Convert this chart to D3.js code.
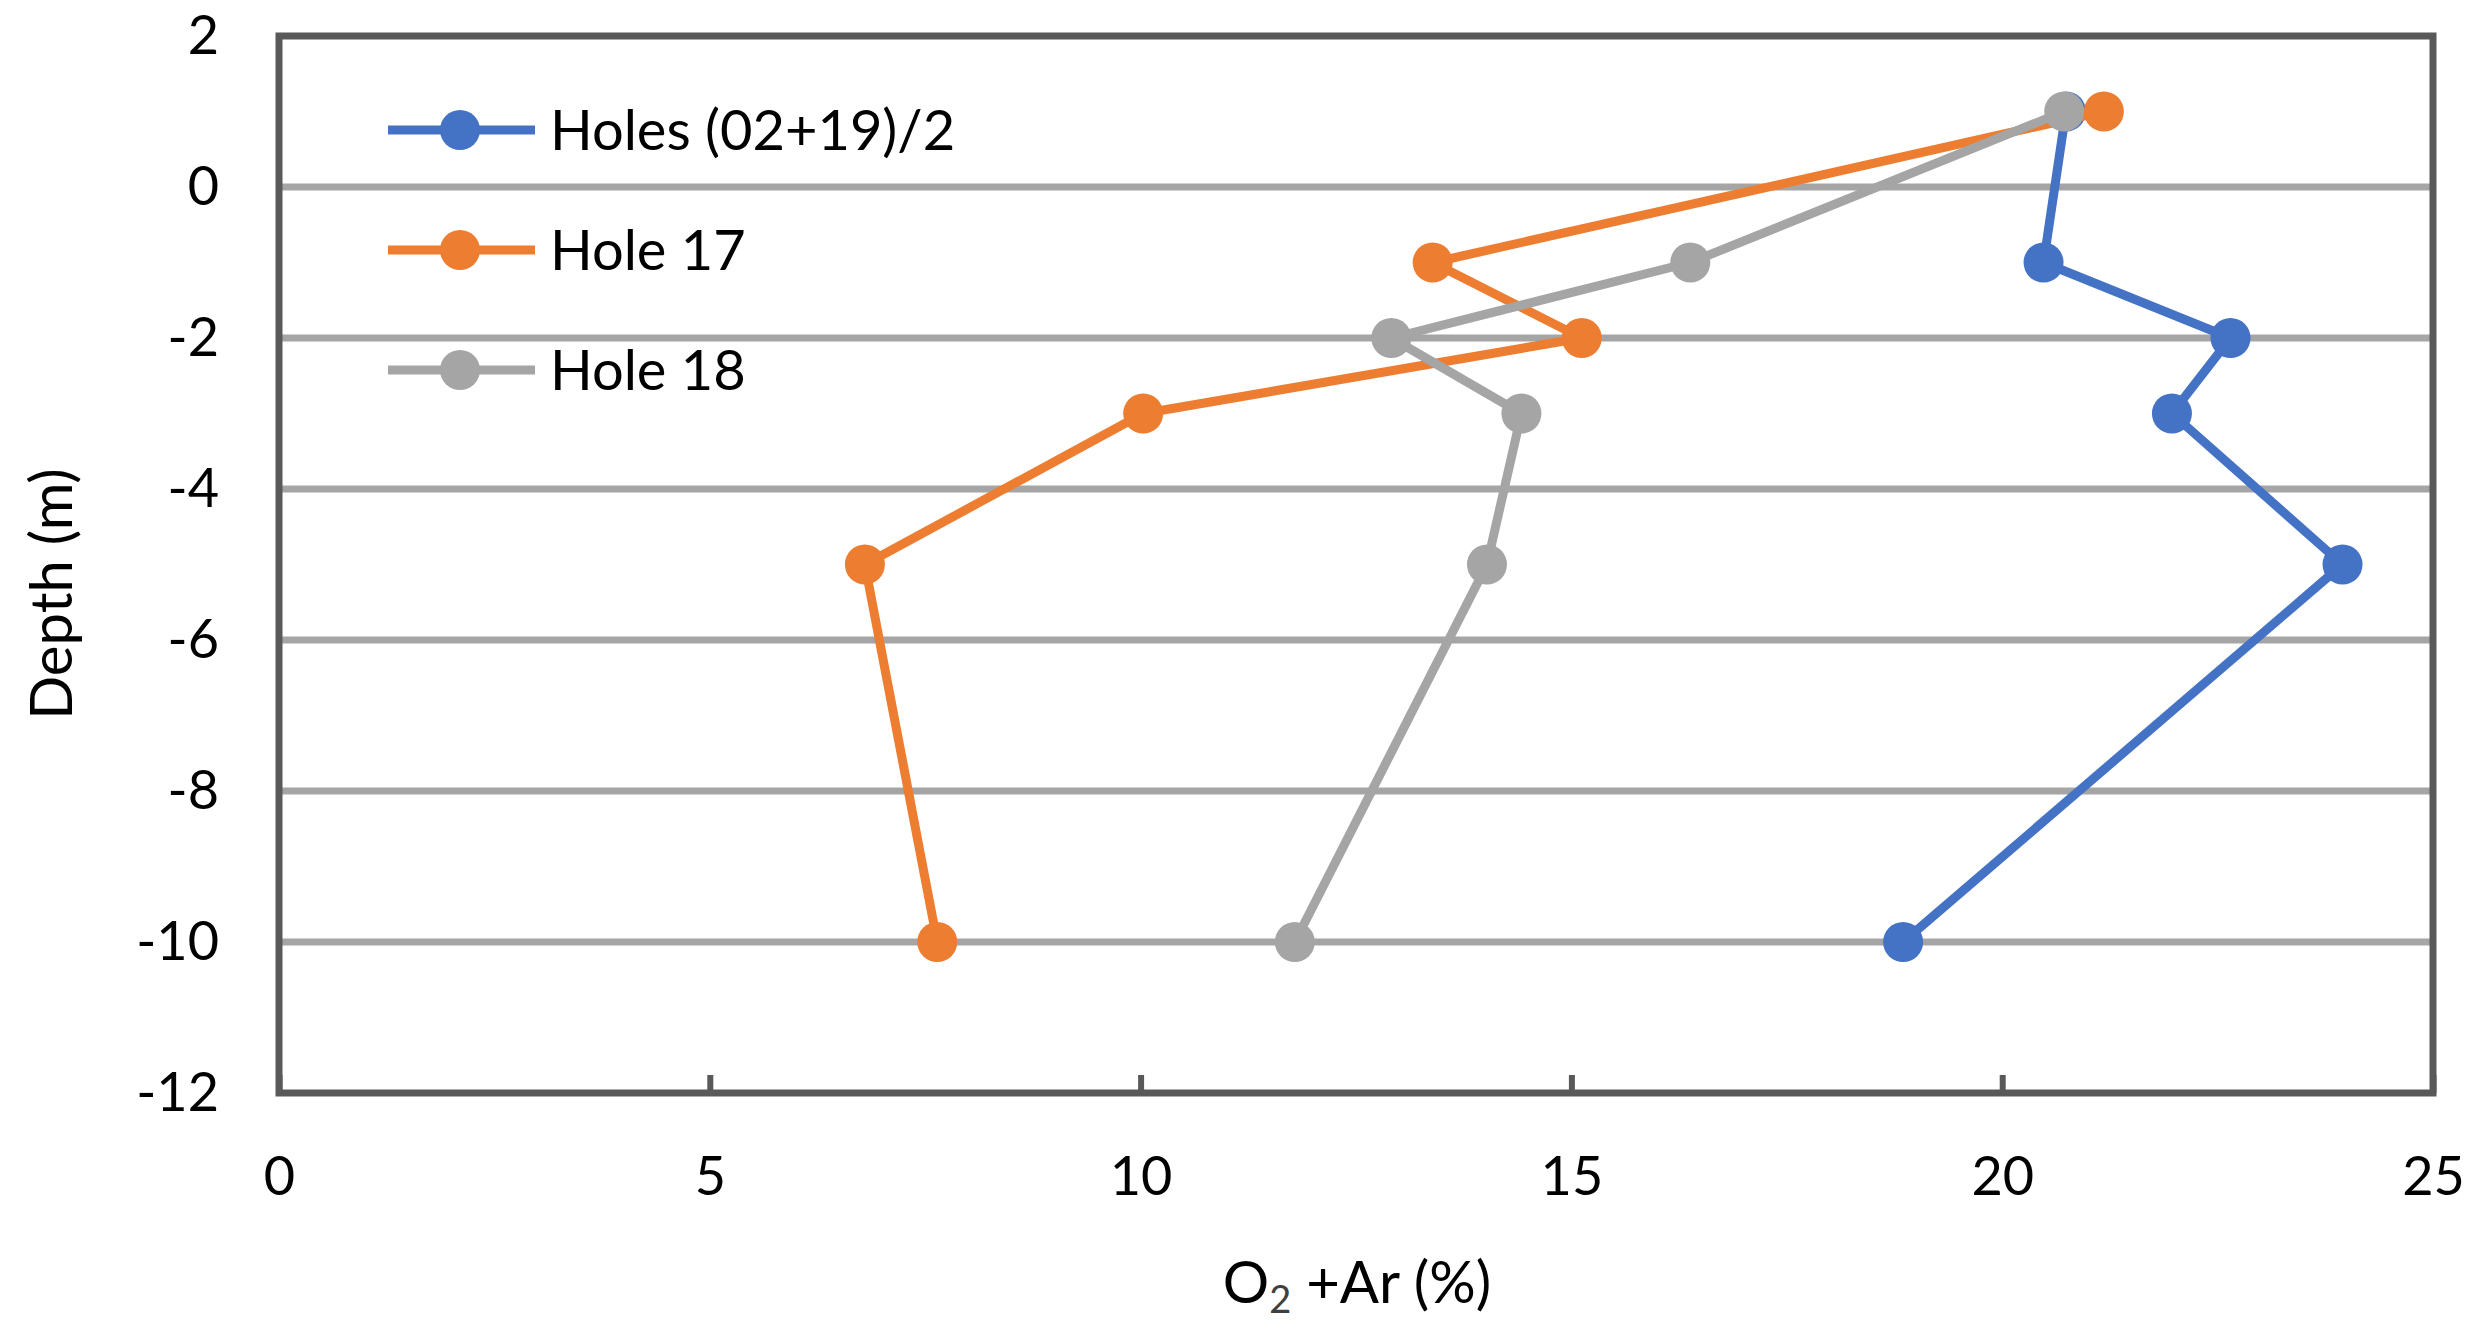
<!DOCTYPE html>
<html>
<head>
<meta charset="utf-8">
<script src="https://cdn.jsdelivr.net/npm/d3@7"></script>
<style>
  html, body { margin: 0; padding: 0; background: #ffffff; }
  svg { display: block; }
  text { font-family: Lato, "Open Sans", sans-serif; fill: #000; }
</style>
</head>
<body>
<svg id="chart" width="2482" height="1334"></svg>
<script>
// ---- data ----
const depths = [1, -1, -2, -3, -5, -10];
const seriesNames = ["Holes (02+19)/2", "Hole 17", "Hole 18"];
const holesAvg = [20.74, 20.48, 22.65, 21.97, 23.95, 18.85];
const hole17   = [21.18, 13.39, 15.12, 10.03, 6.80, 7.64];
const hole18   = [20.72, 16.38, 12.91, 14.42, 14.02, 11.79];
const seriesColors = ["#4472C4", "#ED7D31", "#A5A5A5"];
const xTicks = [0, 5, 10, 15, 20, 25];
const yTicks = [2, 0, -2, -4, -6, -8, -10, -12];
const gridValues = [0, -2, -4, -6, -8, -10];

const svg = d3.select("#chart");
const L = 279, R = 2433, T = 36, B = 1093;

const x = d3.scaleLinear().domain([0, 25]).range([L, R]);
const y = d3.scaleLinear().domain([-12, 2]).range([B, T]);

// gridlines
svg.append("g").selectAll("line").data(gridValues).join("line")
  .attr("x1", L).attr("x2", R)
  .attr("y1", d => y(d)).attr("y2", d => y(d))
  .attr("stroke", "#A5A5A5").attr("stroke-width", 7);

// x axis (ticks inside)
const xAxis = svg.append("g").attr("transform", `translate(0,${B})`)
  .call(d3.axisBottom(x).tickValues(xTicks).tickFormat(d => String(d))
    .tickSizeInner(-18).tickSizeOuter(0).tickPadding(64));
xAxis.select(".domain").remove();
xAxis.selectAll(".tick line").attr("stroke", "#595959").attr("stroke-width", 6);
xAxis.selectAll(".tick text").style("font-size", "54px").attr("fill", "#000");

// y axis
const yAxis = svg.append("g").attr("transform", `translate(${L},0)`)
  .call(d3.axisLeft(y).tickValues(yTicks).tickFormat(d => String(d)).tickSize(0).tickPadding(60));
yAxis.select(".domain").remove();
yAxis.selectAll(".tick text").style("font-size", "54px").attr("fill", "#000");

// plot border
svg.append("rect").attr("x", L).attr("y", T).attr("width", R - L).attr("height", B - T)
  .attr("fill", "none").attr("stroke", "#595959").attr("stroke-width", 7);

// series
const allSeries = [holesAvg, hole17, hole18];
const line = d3.line().x(d => x(d[0])).y(d => y(d[1]));
allSeries.forEach((vals, i) => {
  const pts = vals.map((v, j) => [v, depths[j]]);
  const g = svg.append("g");
  g.append("path").attr("d", line(pts)).attr("fill", "none")
    .attr("stroke", seriesColors[i]).attr("stroke-width", 9).attr("stroke-linejoin", "round");
  g.selectAll("circle").data(pts).join("circle")
    .attr("cx", d => x(d[0])).attr("cy", d => y(d[1])).attr("r", 20)
    .attr("fill", seriesColors[i]);
});

// legend
const leg = svg.append("g");
seriesNames.forEach((name, i) => {
  const ly = 130 + i * 120;
  leg.append("line").attr("x1", 388).attr("x2", 535).attr("y1", ly).attr("y2", ly)
    .attr("stroke", seriesColors[i]).attr("stroke-width", 9);
  leg.append("circle").attr("cx", 460).attr("cy", ly).attr("r", 20).attr("fill", seriesColors[i]);
  leg.append("text").attr("x", 550).attr("y", ly).attr("dy", "0.36em")
    .style("font-size", "56px").text(name);
});

// axis titles
const xt = svg.append("text").attr("x", 1357).attr("y", 1303).attr("text-anchor", "middle")
  .style("font-size", "58px");
xt.append("tspan").text("O");
xt.append("tspan").attr("dy", 10).style("font-size", "38px").attr("fill", "#404040").text("2");
xt.append("tspan").attr("dy", -10).text(" +Ar (%)");

svg.append("text").attr("transform", "translate(72,594) rotate(-90)")
  .attr("text-anchor", "middle").style("font-size", "58px").text("Depth (m)");
</script>
</body>
</html>
